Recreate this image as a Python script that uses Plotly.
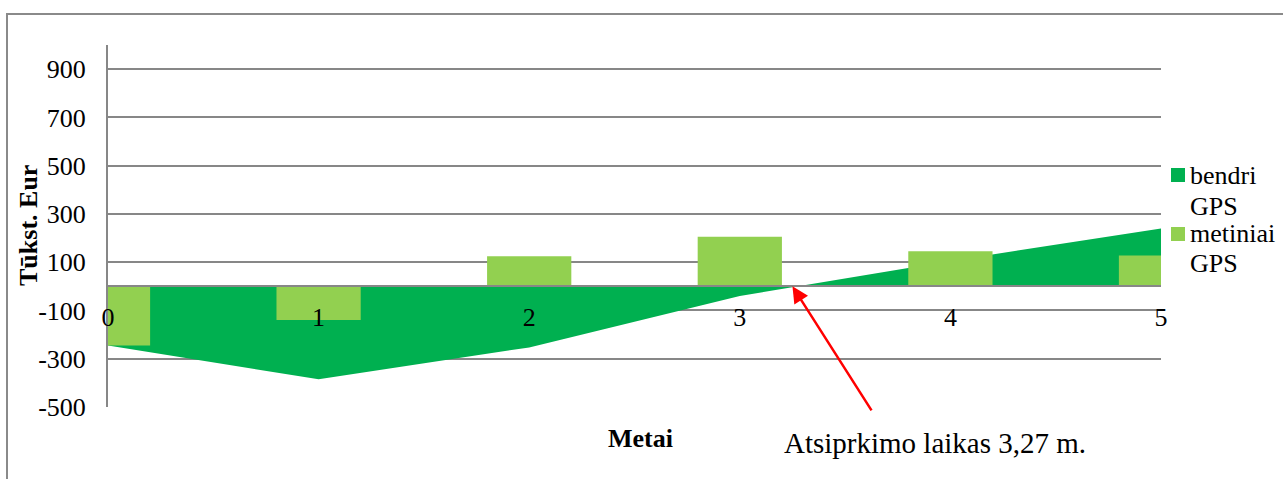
import plotly.graph_objects as go

years = [0, 1, 2, 3, 4, 5]
bendri_gps = [-245, -385, -253, -40, 105, 240]
metiniai_gps = [-245, -140, 125, 205, 145, 128]
y_ticks = [-500, -300, -100, 100, 300, 500, 700, 900]
y_tick_labels = ["-500", "-300", "-100", "100", "300", "500", "700", "900"]
series_names = ["bendri GPS", "metiniai GPS"]

FONT = "Liberation Serif, Times New Roman, serif"
GRID = "#878787"
DARK = "#00B050"
LIGHT = "#92D050"
Y_RANGE = [-500, 1000]
X_RANGE = [0, 5]

fig = go.Figure()
fig.add_trace(go.Scatter(
    x=years, y=bendri_gps, mode="lines", fill="tozeroy", name=series_names[0],
    fillcolor=DARK, line=dict(color=DARK, width=0),
    showlegend=False, hoverinfo="skip", xaxis="x", yaxis="y"))
fig.add_trace(go.Bar(
    x=years, y=metiniai_gps, name=series_names[1], width=0.4,
    marker=dict(color=LIGHT, line=dict(width=0)), showlegend=False,
    xaxis="x2", yaxis="y2"))

# px -> paper helpers (plot area 108..1161 x 45..407)
def px(x):
    return (x - 108) / 1053.0

def py(y):
    return (407 - y) / 362.0

fig.update_layout(
    width=1283, height=479,
    margin=dict(l=108, r=122, t=45, b=72),
    paper_bgcolor="white", plot_bgcolor="white",
    barmode="overlay",
    font=dict(family=FONT, size=26, color="black"),
    showlegend=False,
    xaxis=dict(range=X_RANGE, showgrid=False, zeroline=False, showline=False,
               showticklabels=False, ticks=""),
    yaxis=dict(range=Y_RANGE, tickvals=y_ticks, ticktext=y_tick_labels,
               showgrid=True, gridcolor=GRID, gridwidth=2,
               zeroline=False, showline=True, linecolor=GRID, linewidth=2,
               ticks="", ticklabelstandoff=15, tickfont=dict(family=FONT, size=26)),
    xaxis2=dict(range=X_RANGE, overlaying="x", tickvals=years,
                ticktext=[str(v) for v in years],
                showgrid=False, zeroline=False, showline=True, linecolor=GRID, linewidth=2,
                anchor="free", position=1/3, ticks="", ticklabelstandoff=7,
                tickfont=dict(family=FONT, size=26), layer="above traces"),
    yaxis2=dict(range=Y_RANGE, overlaying="y", showgrid=False, zeroline=False,
                showline=False, showticklabels=False, ticks=""),
)

# legend (drawn manually to match the wrapped two-line entries)
legend_items = [(series_names[0], DARK, 168, [175, 206]),
                (series_names[1], LIGHT, 227, [233, 263])]
for name, color, top, line_ys in legend_items:
    fig.add_shape(type="rect", xref="paper", yref="paper",
                  x0=px(1171), x1=px(1185), y0=py(top), y1=py(top + 14),
                  fillcolor=color, line=dict(width=0))
    for word, ly in zip(name.split(" "), line_ys):
        fig.add_annotation(text=word, xref="paper", yref="paper",
                           x=px(1189), y=py(ly), xanchor="left", yanchor="middle",
                           align="left", showarrow=False, borderpad=0,
                           font=dict(family=FONT, size=26))

fig.add_annotation(text="<b>Tūkst. Eur</b>", xref="paper", yref="paper",
                   x=px(28), y=0.5, textangle=-90, showarrow=False,
                   xanchor="center", yanchor="middle", font=dict(family=FONT, size=26))
fig.add_annotation(text="<b>Metai</b>", xref="paper", yref="paper",
                   x=px(640), y=py(438), showarrow=False,
                   xanchor="center", yanchor="middle", font=dict(family=FONT, size=26))
fig.add_annotation(text="Atsiprkimo laikas 3,27 m.", xref="paper", yref="paper",
                   x=px(935), y=py(443), showarrow=False,
                   xanchor="center", yanchor="middle", font=dict(family=FONT, size=29))
fig.add_annotation(x=3.25, y=0, xref="x", yref="y", ax=3.63, ay=-520, axref="x", ayref="y",
                   text="", showarrow=True, arrowhead=2, arrowsize=1.3, arrowwidth=2.5,
                   arrowcolor="#FF0000")

fig.add_shape(type="path", xref="paper", yref="paper",
              path=f"M {px(7)},{py(490)} L {px(7)},{py(14)} L {px(1290)},{py(14)}",
              line=dict(color="#8a8a8a", width=2), fillcolor="rgba(0,0,0,0)")

fig.write_html("out.html")
